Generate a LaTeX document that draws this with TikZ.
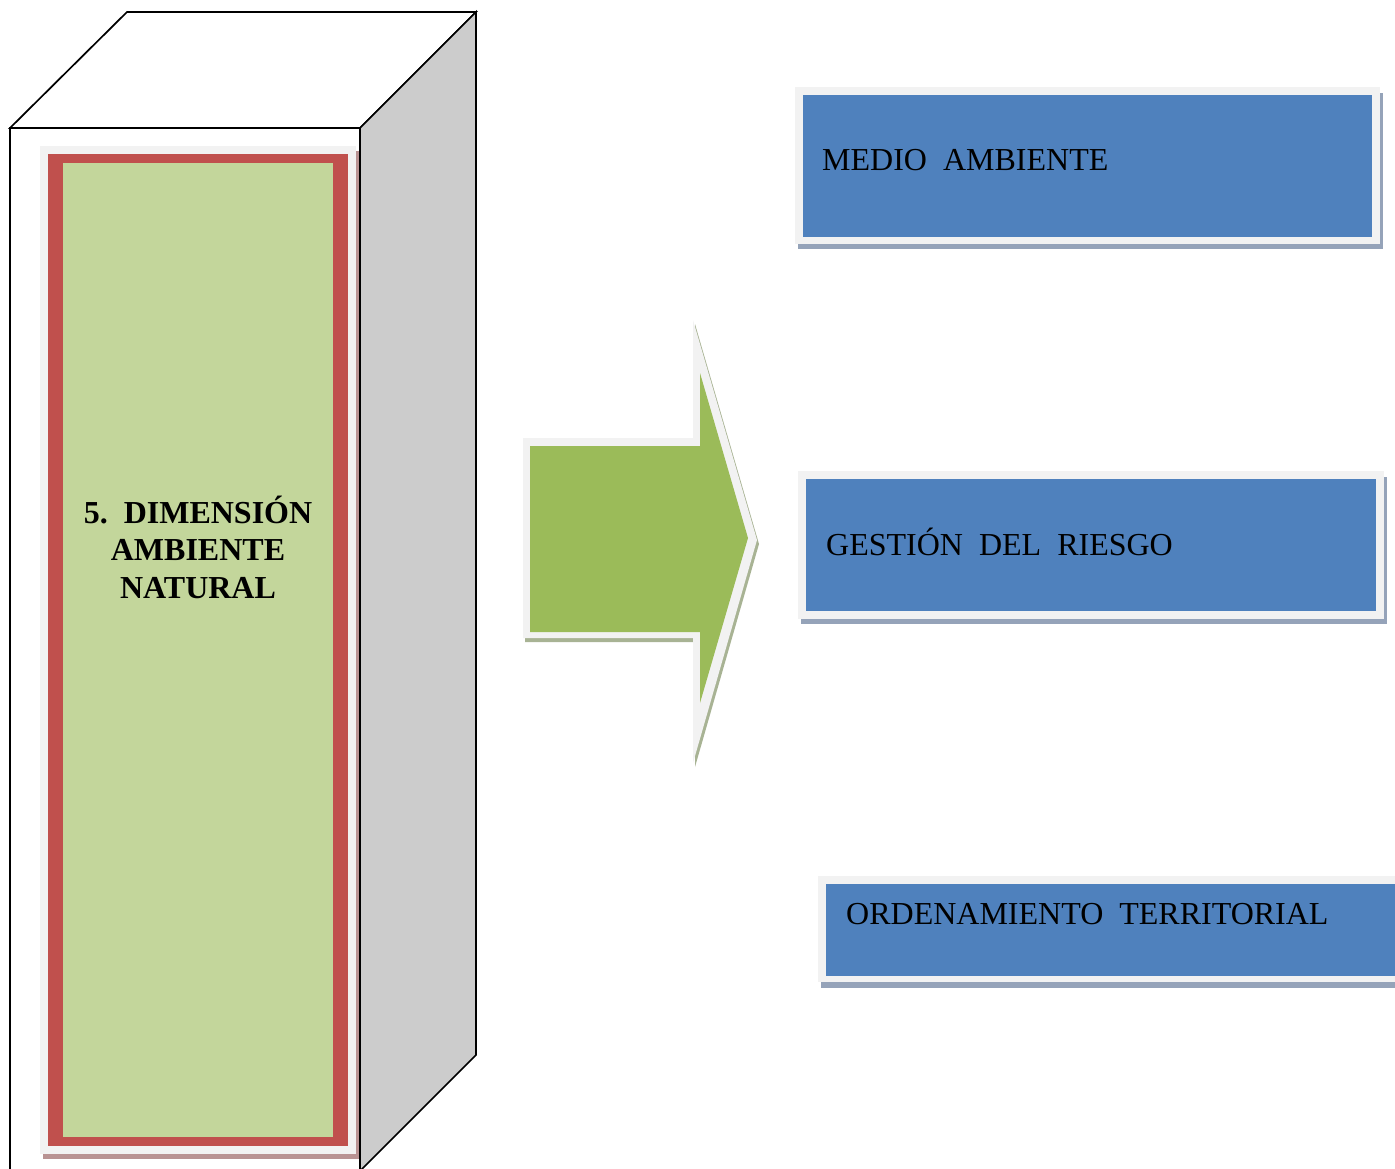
\documentclass[tikz,border=0pt]{standalone}
\usepackage{fontspec}
\setmainfont{Liberation Serif}
\definecolor{sidegray}{HTML}{CCCCCC}
\definecolor{lightframe}{HTML}{F2F2F2}
\definecolor{panelshadow}{HTML}{B99393}
\definecolor{redc}{HTML}{C0504D}
\definecolor{greenc}{HTML}{C3D69B}
\definecolor{arrowgreen}{HTML}{9BBB59}
\definecolor{arrowshadow}{HTML}{A8B394}
\definecolor{boxblue}{HTML}{4F81BD}
\definecolor{boxshadow}{HTML}{95A3B9}
\tikzset{
  cubeline/.style={draw=black, line width=1.7pt, line join=miter},
  boxtext/.style={anchor=base west, inner sep=0pt, font=\fontsize{32}{37.5}\selectfont},
  maintext/.style={align=center, inner sep=0pt, font=\fontsize{32}{37.5}\selectfont\bfseries}
}
\begin{document}
\begin{tikzpicture}[x=1pt,y=-1pt]
\useasboundingbox (0,0) rectangle (1395,1169);
\clip (0,0) rectangle (1395,1169);
% cube
\draw[cubeline, fill=white] (10,128) -- (127,12) -- (476,12) -- (360,128) -- cycle;
\draw[cubeline, fill=sidegray] (360,128) -- (476,12) -- (476,1055) -- (360,1171) -- cycle;
\draw[cubeline, fill=white] (10,128) rectangle (360,1185);
% panel
\fill[panelshadow] (43,151) rectangle (359,1159);
\fill[lightframe] (40,146) rectangle (356,1154);
\fill[redc] (48,154) rectangle (348,1146);
\fill[greenc] (63,163) rectangle (333,1137);
\node[maintext] (dim) at (198,547) {5.\hspace{0.5em}DIMENSIÓN\\AMBIENTE\\NATURAL};
% arrow
\fill[arrowshadow] (525,442) -- (695,442) -- (695,324) -- (759,544) -- (695,767) -- (695,642) -- (525,642) -- cycle;
\fill[lightframe] (523,438) -- (693,438) -- (693,320) -- (757,540) -- (693,763) -- (693,638) -- (523,638) -- cycle;
\fill[arrowgreen] (530,446) -- (700,446) -- (700,373) -- (748,538) -- (700,703) -- (700,632) -- (530,632) -- cycle;
% box 1
\fill[boxshadow] (798,93) rectangle (1383,249);
\fill[lightframe] (795,87) rectangle (1380,244);
\fill[boxblue] (803,95) rectangle (1372,237);
\node[boxtext] (medio) at (822,171) {MEDIO\ \ AMBIENTE};
% box 2
\fill[boxshadow] (801,477) rectangle (1387,624);
\fill[lightframe] (798,471) rectangle (1384,619);
\fill[boxblue] (806,479) rectangle (1376,611);
\node[boxtext] (gestion) at (826,555) {GESTIÓN\ \ DEL\ \ RIESGO};
% box 3
\fill[boxshadow] (821,882) rectangle (1400,988);
\fill[lightframe] (818,876) rectangle (1400,982);
\fill[boxblue] (826,884) rectangle (1400,976);
\node[boxtext] (orden) at (846,924) {ORDENAMIENTO\ \ TERRITORIAL};
\end{tikzpicture}
\end{document}
